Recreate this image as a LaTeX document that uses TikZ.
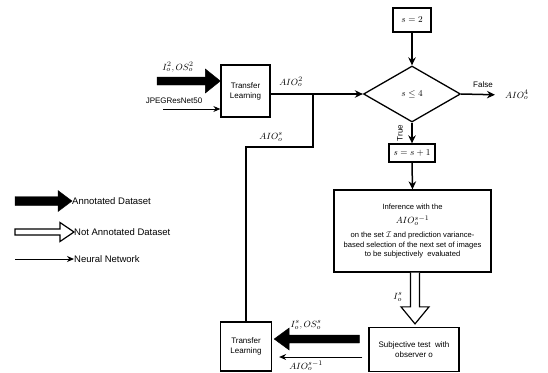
\documentclass[tikz,border=0pt]{standalone}
\usepackage{fontspec}
\setmainfont{Liberation Sans}
\usepackage{amsmath}
\usetikzlibrary{shapes.geometric,arrows.meta,calc}

\tikzset{
  box/.style={draw, line width=1.3pt, align=center, inner sep=1pt,
    font=\fontsize{8}{10}\selectfont},
  mathlbl/.style={inner sep=0, font=\fontsize{9.5}{11}\selectfont},
  txtlbl/.style={inner sep=0, font=\fontsize{8}{10}\selectfont},
  legtxt/.style={inner sep=0, anchor=west, font=\fontsize{9.5}{11}\selectfont},
  flow/.style={line width=1.5pt, -{Stealth[length=8pt,width=7.5pt]}},
  thinflow/.style={line width=1pt, -{Stealth[length=7pt,width=6pt]}},
  plainline/.style={line width=1.3pt},
  filledarrow/.style={fill=black, draw=black, line width=0.4pt},
  hollowarrow/.style={fill=white, draw=black, line width=1.2pt, line join=miter},
}

\begin{document}
\begin{tikzpicture}[x=1pt,y=-1pt]
\useasboundingbox (0,0) rectangle (548,372);

% --- blocks ---
\node[box, minimum width=49pt, minimum height=52pt] (tl1) at (245.5,91) {Transfer\\Learning};
\node[box, minimum width=51pt, minimum height=49pt] (tl2) at (246,346.5) {Transfer\\Learning};
\node[box, minimum width=38pt, minimum height=24pt, font=\fontsize{9.5}{11}\selectfont] (s2) at (412,20) {$s=2$};
\node[draw, diamond, line width=1.3pt, aspect=1.73, minimum width=97pt, minimum height=56pt,
      inner sep=0, font=\fontsize{9.5}{11}\selectfont] (dia) at (412,94) {$s\leq 4$};
\node[box, minimum width=46pt, minimum height=18pt, font=\fontsize{9.5}{11}\selectfont] (ss1) at (412,153) {$s=s+1$};
\node[box, minimum width=157pt, minimum height=82pt, font=\fontsize{7.6}{9.6}\selectfont] (inf) at (412.5,231)
  {Inference with the\\[5pt]
   {\fontsize{9.5}{11}\selectfont $AIO_o^{s-1}$}\\[4pt]
   on the set $\mathcal{I}$ and prediction variance-\\
   based selection of the next set of images\\
   to be subjectively\ \ evaluated};
\node[box, minimum width=90pt, minimum height=44pt] (subj) at (414,349.5) {Subjective test\ \ with\\observer o};

% --- main loop ---
\draw[flow] (s2.south) -- (dia.north);
\draw[flow] (tl1.east |- dia.west) -- (dia.west);
\node[mathlbl] (aio2) at (291,82) {$AIO_o^2$};

\node[mathlbl, anchor=west] (aio4) at (505,95) {$AIO_o^4$};
\draw[flow, shorten >=10pt] (dia.east) -- (aio4.west);
\node[txtlbl] (false) at (483,85) {False};

\draw[flow] (dia.south) -- (ss1.north);
\node[txtlbl, rotate=90] (true) at (400,133) {True};
\draw[flow] (ss1.south) -- (inf.north);

% feedback from the lower transfer learning block
\coordinate (bend) at (313,147);
\coordinate (join) at (313,94);
\draw[plainline] (tl2.north) |- (bend) -- (join);
\node[mathlbl] (aios) at (271,137) {$AIO_o^s$};

% --- inputs to the first transfer learning block ---
\coordinate (in1) at (157,81);
\path[filledarrow] (in1) ++(0,-4) -- ($(tl1.west |- in1)+(-15,-4)$) -- ($(tl1.west |- in1)+(-15,-12)$)
   -- (tl1.west |- in1) -- ($(tl1.west |- in1)+(-15,12)$) -- ($(tl1.west |- in1)+(-15,4)$)
   -- ($(in1)+(0,4)$) -- cycle;
\node[mathlbl] (i2) at (178,67) {$I_o^2,OS_o^2$};

\coordinate (in2) at (163,109);
\draw[thinflow] (in2) -- (tl1.west |- in2);
\node[txtlbl] (jpeg) at (174,101) {JPEGResNet50};

% --- inference to subjective test (not annotated images) ---
\coordinate (hs) at ($(inf.south)+(2.5,0)$);
\coordinate (ht) at ($(subj.north)+(1,-3)$);
\draw[hollowarrow] ($(hs)+(-4.5,0)$) -- ($(ht)+(-4.5,-17)$) -- ($(ht)+(-14,-17)$) -- (ht)
   -- ($(ht)+(14,-17)$) -- ($(ht)+(4.5,-17)$) -- ($(hs)+(4.5,0)$);
\node[mathlbl] (is) at (398,297) {$I_o^s$};

% --- subjective test back to transfer learning ---
\coordinate (ts) at ($(subj.west)+(-9,-10.5)$);
\coordinate (tt) at ($(tl2.east |- ts)+(2,0)$);
\path[filledarrow] ($(ts)+(0,-4)$) -- ($(tt)+(15,-4)$) -- ($(tt)+(15,-11)$) -- (tt)
   -- ($(tt)+(15,11)$) -- ($(tt)+(15,4)$) -- ($(ts)+(0,4)$) -- cycle;
\node[mathlbl] (ioss) at (306,325) {$I_o^s,OS_o^s$};

\coordinate (ns) at ($(subj.west)+(-6,7.5)$);
\draw[thinflow] (ns) -- ($(tl2.east |- ns)+(7,0)$);
\node[mathlbl] (aiosm1) at (306,366) {$AIO_o^{s-1}$};

% --- legend ---
\coordinate (l1) at (15,201);
\node[legtxt] (leg1) at (72,201) {Annotated Dataset};
\path[filledarrow] ($(l1)+(0,-4.5)$) -- ($(leg1.west)+(-14,-4.5)$) -- ($(leg1.west)+(-14,-10.5)$)
   -- (leg1.west) -- ($(leg1.west)+(-14,10.5)$) -- ($(leg1.west)+(-14,4.5)$) -- ($(l1)+(0,4.5)$) -- cycle;

\coordinate (l2) at (15,232);
\node[legtxt] (leg2) at (74,232) {Not Annotated Dataset};
\draw[hollowarrow] ($(l2)+(0,-3)$) -- ($(leg2.west)+(-14,-3)$) -- ($(leg2.west)+(-14,-9.5)$)
   -- (leg2.west) -- ($(leg2.west)+(-14,9.5)$) -- ($(leg2.west)+(-14,3)$) -- ($(l2)+(0,3)$) -- cycle;

\coordinate (l3) at (15,259);
\node[legtxt] (leg3) at (74,259) {Neural Network};
\draw[thinflow] (l3) -- (leg3.west);
\end{tikzpicture}
\end{document}
